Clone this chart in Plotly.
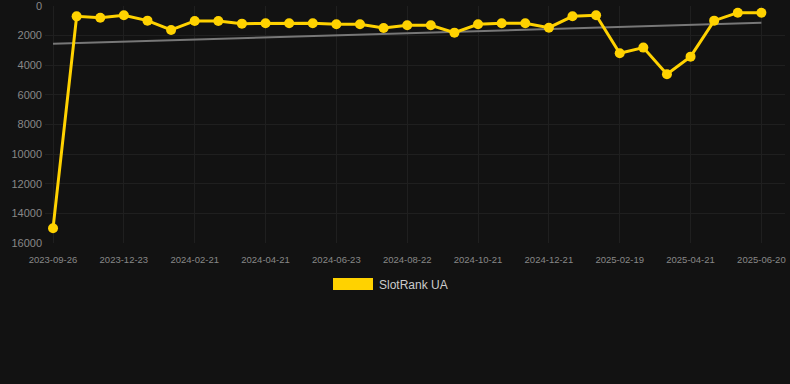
import numpy as np
import plotly.graph_objects as go

dates = [
    "2023-09-26", "2023-10-25", "2023-11-24", "2023-12-23", "2024-01-12", "2024-02-01",
    "2024-02-21", "2024-03-12", "2024-04-01", "2024-04-21", "2024-05-12", "2024-06-02",
    "2024-06-23", "2024-07-13", "2024-08-02", "2024-08-22", "2024-09-11", "2024-10-01",
    "2024-10-21", "2024-11-10", "2024-11-30", "2024-12-21", "2025-01-10", "2025-01-30",
    "2025-02-19", "2025-03-11", "2025-03-31", "2025-04-21", "2025-05-11", "2025-05-31",
    "2025-06-20",
]
rank = [
    15000, 700, 790, 630, 990, 1620, 1010, 1010, 1190, 1170, 1170, 1170,
    1235, 1235, 1485, 1300, 1300, 1800, 1235, 1170, 1170, 1465, 695, 630,
    3190, 2810, 4610, 3420, 990, 450, 450,
]
tick_labels = dates[::3]
series_name = "SlotRank UA"

idx = np.arange(len(dates))
slope, intercept = np.polyfit(idx, np.array(rank, dtype=float), 1)
trend = intercept + slope * idx

YELLOW = "#FFD200"
BG = "#121212"
GRID = "#1f1f1f"

fig = go.Figure()
fig.add_trace(go.Scatter(
    x=dates, y=trend, mode="lines",
    line=dict(color="#777777", width=2),
    showlegend=False, hoverinfo="skip",
))
fig.add_trace(go.Scatter(
    x=dates, y=rank, mode="lines+markers", name=series_name,
    line=dict(color=YELLOW, width=3),
    marker=dict(color=YELLOW, size=10),
    showlegend=False,
))

L, R, T, B = 45, 5, 6, 141
W, H = 790, 384
pw, ph = W - L - R, H - T - B

def px_x(p):
    return (p - L) / pw

def px_y(p):
    return (H - B - p) / ph

fig.add_shape(type="rect", xref="paper", yref="paper",
              x0=px_x(333), x1=px_x(373), y0=px_y(290), y1=px_y(278),
              fillcolor=YELLOW, line=dict(width=0))
fig.add_annotation(xref="paper", yref="paper", x=px_x(377), y=px_y(284.5),
                   xanchor="left", yanchor="middle", showarrow=False,
                   text=series_name, font=dict(color="#cccccc", size=12,
                                               family="Liberation Sans, Arial, sans-serif"))

fig.update_layout(
    width=W, height=H,
    margin=dict(l=L, r=R, t=T, b=B),
    paper_bgcolor=BG, plot_bgcolor=BG,
    font=dict(family="Liberation Sans, Arial, sans-serif", color="#888888"),
    showlegend=False,
)
fig.update_xaxes(
    type="category", categoryorder="array", categoryarray=dates,
    range=[-0.34, 31.0], automargin=False,
    tickmode="array", tickvals=tick_labels, ticktext=tick_labels,
    tickfont=dict(size=9.5, color="#888888"),
    showgrid=True, gridcolor=GRID, gridwidth=1,
    zeroline=False, showline=False, ticks="",
    ticklabelstandoff=9,
)
fig.update_yaxes(
    range=[16000, 0], dtick=2000, tickformat="d", automargin=False,
    tickfont=dict(size=11, color="#888888"),
    showgrid=True, gridcolor=GRID, gridwidth=1,
    zeroline=False, showline=False, ticks="",
    ticklabeloverflow="allow", ticklabelstandoff=2,
)

fig.write_html(
    "out.html",
    config={"displayModeBar": False},
    post_script="document.body.style.margin='0';document.body.style.background='#121212';",
)
